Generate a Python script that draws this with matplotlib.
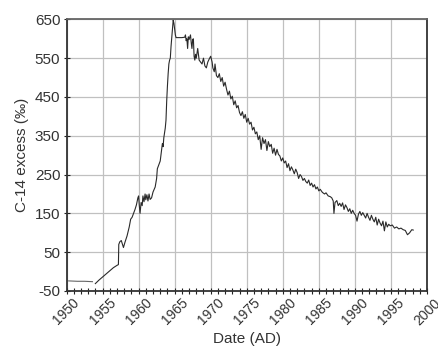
import matplotlib
matplotlib.use("Agg")
import matplotlib.pyplot as plt
from matplotlib.ticker import MultipleLocator

plt.rcParams['font.family'] = ['Liberation Sans', 'DejaVu Sans']
plt.rcParams['axes.unicode_minus'] = False

# early (pre-bomb) segment
early_years = [1950.3, 1951.5, 1952.5, 1953.6]
early_vals = [-24, -25, -25, -26]

# main record
years = [
    1954.0, 1954.5, 1955.0, 1955.5, 1956.0, 1956.5, 1957.0, 1957.2, 1957.25, 1957.4,
    1957.6, 1957.8, 1957.9, 1958.1, 1958.4, 1958.7, 1958.9, 1959.1, 1959.3, 1959.5,
    1959.7, 1959.9, 1960.0, 1960.1, 1960.2, 1960.35, 1960.5, 1960.6, 1960.75, 1960.9,
    1961.0, 1961.15, 1961.3, 1961.45, 1961.6, 1961.8, 1962.0, 1962.3, 1962.5, 1962.6,
    1962.8, 1963.0, 1963.1, 1963.3, 1963.4, 1963.5, 1963.7, 1963.8, 1963.9, 1964.0,
    1964.1, 1964.2, 1964.3, 1964.4, 1964.5, 1964.7, 1964.8, 1964.9, 1965.0, 1965.1,
    1965.2, 1965.6, 1966.0, 1966.4, 1966.5, 1966.6, 1966.7, 1966.8, 1966.9, 1967.0,
    1967.2, 1967.3, 1967.4, 1967.5, 1967.6, 1967.7, 1967.8, 1967.9, 1968.0, 1968.2,
    1968.4, 1968.6, 1968.8, 1969.0, 1969.2, 1969.4, 1969.6, 1969.8, 1970.0, 1970.2,
    1970.3, 1970.5, 1970.6, 1970.8, 1971.0, 1971.2, 1971.4, 1971.6, 1971.8, 1972.0,
    1972.2, 1972.4, 1972.6, 1972.8, 1973.0, 1973.2, 1973.4, 1973.6, 1973.8, 1974.0,
    1974.2, 1974.4, 1974.6, 1974.8, 1975.0, 1975.2, 1975.4, 1975.6, 1975.8, 1976.0,
    1976.2, 1976.4, 1976.6, 1976.8, 1977.0, 1977.2, 1977.4, 1977.6, 1977.8, 1978.0,
    1978.2, 1978.4, 1978.6, 1978.8, 1979.0, 1979.2, 1979.4, 1979.6, 1979.8, 1980.0,
    1980.2, 1980.4, 1980.6, 1980.8, 1981.0, 1981.2, 1981.4, 1981.6, 1981.8, 1982.0,
    1982.2, 1982.4, 1982.6, 1982.8, 1983.0, 1983.2, 1983.4, 1983.6, 1983.8, 1984.0,
    1984.2, 1984.4, 1984.6, 1984.8, 1985.0, 1985.2, 1985.5, 1985.8, 1986.0, 1986.3,
    1986.6, 1986.8, 1987.0, 1987.1, 1987.25, 1987.5, 1987.7, 1987.9, 1988.1, 1988.3,
    1988.5, 1988.7, 1988.9, 1989.1, 1989.3, 1989.5, 1989.7, 1989.9, 1990.1, 1990.3,
    1990.5, 1990.7, 1990.9, 1991.1, 1991.3, 1991.5, 1991.7, 1991.9, 1992.1, 1992.3,
    1992.5, 1992.7, 1992.9, 1993.1, 1993.3, 1993.5, 1993.7, 1993.9, 1994.1, 1994.3,
    1994.5, 1994.7, 1994.9, 1995.2, 1995.5, 1995.8, 1996.1, 1996.4, 1996.7, 1997.0,
    1997.3, 1997.6, 1997.9, 1998.1,
]
c14 = [
    -31, -22, -14, -6, 2, 10, 16, 18, 70, 77,
    80, 68, 62, 75, 92, 115, 135, 140, 150, 160,
    172, 190, 195, 170, 150, 178, 170, 195, 180, 200,
    185, 198, 182, 200, 186, 190, 205, 218, 240, 265,
    275, 285, 300, 330, 322, 345, 370, 390, 440, 478,
    510, 535, 545, 550, 580, 625, 648, 640, 625, 610,
    603, 603, 603, 604, 610, 595, 600, 575, 605, 598,
    610, 590, 575, 598, 600, 555, 545, 560, 550, 575,
    545, 540, 535, 550, 530, 525, 540, 548, 555, 540,
    525, 515, 535, 505, 500, 510, 490, 500, 478, 488,
    470, 455, 465, 445, 452, 430, 440, 422, 428, 410,
    402, 412, 395, 405, 385, 395, 380, 385, 365, 372,
    355, 360, 340, 350, 315, 345, 330, 340, 312, 335,
    322, 328, 305, 318, 300, 315, 302, 298, 285, 293,
    280, 285, 268, 278, 260, 270, 262, 252, 264, 255,
    240, 250, 245, 235, 240, 232, 228, 236, 222, 228,
    218, 224, 213, 218, 208, 212, 204, 200, 203, 195,
    193, 190, 182, 150, 178, 183, 170, 176, 168, 177,
    160, 172, 165, 155, 162, 150, 158, 150, 145, 130,
    148, 155, 145, 152, 145, 138, 150, 140, 132, 145,
    135, 128, 140, 120, 135, 125, 118, 130, 105, 128,
    115, 122, 118, 120, 112, 115, 110, 112, 108, 106,
    95, 100, 108, 107,
]

xticks = [1950, 1955, 1960, 1965, 1970, 1975, 1980, 1985, 1990, 1995, 2000]
yticks = [-50, 50, 150, 250, 350, 450, 550, 650]

fig = plt.figure(figsize=(4.39, 3.46), dpi=100)
ax = fig.add_axes([0.1515, 0.159, 0.821, 0.785])

ax.plot(early_years, early_vals, color='#666666', lw=0.8)
ax.plot(years, c14, color='#2a2a2a', lw=0.8)

ax.set_xlim(1950, 2000)
ax.set_ylim(-50, 650)
ax.set_xticks(xticks)
ax.set_yticks(yticks)
ax.xaxis.set_minor_locator(MultipleLocator(1))
ax.grid(True, which='major', color='#c0c0c0', lw=0.9)
ax.set_axisbelow(True)

ax.tick_params(axis='y', which='major', direction='inout', length=5, width=0.8,
               labelsize=11, colors='#222222', labelcolor='#333333', pad=2)
ax.tick_params(axis='x', which='major', direction='inout', length=5, width=0.8,
               labelsize=10, colors='#222222', labelcolor='#333333', pad=1)
ax.tick_params(axis='x', which='minor', direction='inout', length=4, width=0.8, colors='#222222')
for lab in ax.get_xticklabels():
    lab.set_rotation(45)
    lab.set_ha('center')

for side in ['left', 'bottom', 'right']:
    ax.spines[side].set_color('#333333')
    ax.spines[side].set_linewidth(1.3)
ax.spines['top'].set_color('#666666')
ax.spines['top'].set_linewidth(1.3)

ax.set_xlabel('Date (AD)', fontsize=11, color='#333333', labelpad=3)
ax.set_ylabel('C-14 excess (‰)', fontsize=11, color='#333333', labelpad=4)

fig.savefig('out.png', dpi=100)
